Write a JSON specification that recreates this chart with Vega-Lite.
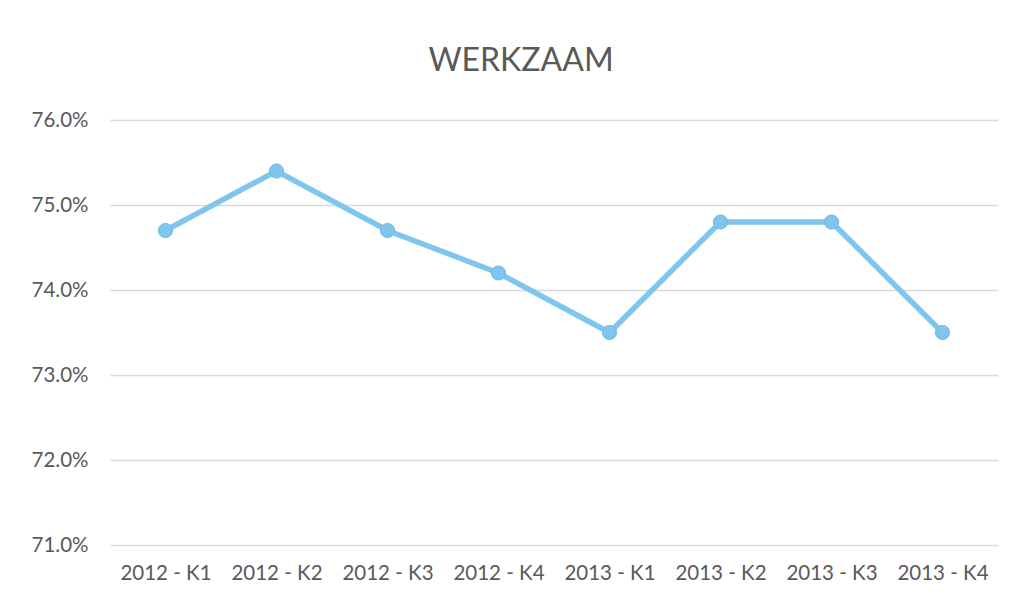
{
  "$schema": "https://vega.github.io/schema/vega-lite/v6.json",
  "autosize": "none",
  "width": 888,
  "height": 425,
  "padding": {"left": 110, "top": 120, "right": 32, "bottom": 54},
  "background": "white",
  "title": {
    "text": "WERKZAAM",
    "font": "Lato",
    "fontSize": 32,
    "fontWeight": "normal",
    "color": "#595959",
    "anchor": "middle",
    "dx": -33,
    "offset": 32
  },
  "config": {
    "view": {"stroke": null},
    "axis": {
      "labelFont": "Lato",
      "labelColor": "#595959",
      "labelFontSize": 20.5,
      "domain": false,
      "ticks": false,
      "title": null
    }
  },
  "data": {
    "values": [
      {"kwartaal": "2012 - K1", "werkzaam": 0.747},
      {"kwartaal": "2012 - K2", "werkzaam": 0.754},
      {"kwartaal": "2012 - K3", "werkzaam": 0.747},
      {"kwartaal": "2012 - K4", "werkzaam": 0.742},
      {"kwartaal": "2013 - K1", "werkzaam": 0.735},
      {"kwartaal": "2013 - K2", "werkzaam": 0.748},
      {"kwartaal": "2013 - K3", "werkzaam": 0.748},
      {"kwartaal": "2013 - K4", "werkzaam": 0.735}
    ]
  },
  "encoding": {
    "x": {
      "field": "kwartaal",
      "type": "ordinal",
      "sort": null,
      "scale": {"type": "point", "padding": 0.5},
      "axis": {"labelAngle": 0, "labelPadding": 18, "grid": false}
    },
    "y": {
      "field": "werkzaam",
      "type": "quantitative",
      "scale": {"domain": [0.71, 0.76], "nice": false, "zero": false},
      "axis": {
        "format": ".1%",
        "values": [0.71, 0.72, 0.73, 0.74, 0.75, 0.76],
        "labelPadding": 22,
        "grid": true,
        "gridColor": "#d9d9d9",
        "gridWidth": 1.3
      }
    }
  },
  "layer": [
    {
      "mark": {"type": "line", "color": "#7fc6ef", "strokeWidth": 5.5}
    },
    {
      "mark": {"type": "point", "filled": true, "fill": "#7fc6ef", "stroke": "#72b6de", "strokeWidth": 1, "size": 200, "opacity": 1, "shape": "circle"}
    }
  ]
}
